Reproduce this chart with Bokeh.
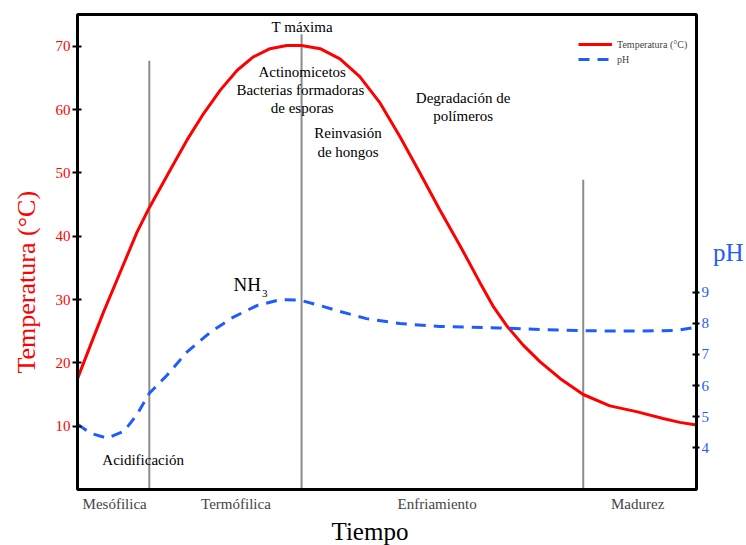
from bokeh.plotting import figure
from bokeh.models import Range1d, LinearAxis, FixedTicker, Legend, LegendItem, Title
from bokeh.core.properties import value
from bokeh.embed import file_html
from bokeh.resources import INLINE

# ---- data ----
time_temp = [0, 2.1, 4.2, 6.9, 9.6, 11.6, 15.0, 17.7, 20.4, 23.1, 25.8, 28.4, 31.1, 33.8,
             36.2, 39.2, 42.4, 45.6, 48.9, 52.1, 55.3, 58.5, 61.8, 65.0, 67.1, 69.3, 72.0,
             74.7, 78.0, 81.7, 86.0, 90.3, 94.6, 97.3, 100]
temperature = [17.5, 22.8, 28.0, 34.3, 40.6, 44.5, 50.5, 55.2, 59.4, 63.1, 66.2, 68.3, 69.6,
               70.1, 70.1, 69.6, 68.0, 65.2, 61.0, 55.7, 50.0, 44.2, 38.5, 32.7, 29.0, 25.9,
               22.8, 20.2, 17.5, 15.0, 13.2, 12.3, 11.2, 10.6, 10.2]
time_ph = [0, 2.1, 4.8, 7.5, 9.6, 11.6, 14.5, 17.7, 21.5, 25.2, 29.0, 32.7, 36.0, 39.2,
           42.4, 46.7, 52.1, 58.5, 68.2, 74.7, 81.7, 89.2, 96.7, 100]
ph = [4.76, 4.47, 4.31, 4.53, 5.06, 5.75, 6.34, 7.08, 7.72, 8.20, 8.57, 8.76, 8.74, 8.57,
      8.38, 8.15, 7.99, 7.90, 7.85, 7.80, 7.76, 7.75, 7.77, 7.87]
phase_times = [11.6, 36.2, 81.7]
phase_tops = [67.7, 71.9, 48.9]
phase_names = ["Mesófilica", "Termófilica", "Enfriamiento", "Madurez"]
phase_label_pos = [6.0, 25.6, 58.1, 90.5]
temp_ticks = [10, 20, 30, 40, 50, 60, 70]
ph_ticks = [4, 5, 6, 7, 8, 9]

notes = ["T máxima", "Actinomicetos", "Bacterias formadoras", "de esporas",
         "Reinvasión", "de hongos", "Degradación de", "polímeros", "Acidificación"]
note_x = [36.3, 36.3, 36.0, 36.3, 43.7, 43.7, 62.3, 62.3, 10.6]
note_y = [73.0, 65.9, 63.1, 60.2, 56.3, 53.3, 61.8, 59.0, 4.7]

RED = "#ff0000"
BLUE = "#1f5cff"
SERIF = "Liberation Serif"

p = figure(width=746, height=545, output_backend="svg", toolbar_location=None,
           x_range=Range1d(0, 100), y_range=Range1d(0, 75),
           min_border_left=77, min_border_right=49, min_border_top=14, min_border_bottom=54)
p.extra_y_ranges = {"ph": Range1d(2.66, 17.92)}
p.grid.visible = False
p.outline_line_color = "black"
p.outline_line_width = 3
p.background_fill_color = "white"
p.border_fill_color = "white"

# left axis
ya = p.yaxis[0]
ya.ticker = FixedTicker(ticks=temp_ticks)
ya.major_label_text_color = RED
ya.major_label_text_font = SERIF
ya.major_label_text_font_size = "15px"
ya.major_label_standoff = 2
ya.axis_line_width = 3
ya.major_tick_in = 4
ya.major_tick_out = 5
ya.major_tick_line_width = 2
ya.minor_tick_line_color = None

# right axis
ra = LinearAxis(y_range_name="ph", ticker=FixedTicker(ticks=ph_ticks))
ra.axis_label = "pH"
ra.axis_label_orientation = "horizontal"
ra.axis_label_text_color = BLUE
ra.axis_label_text_font = SERIF
ra.axis_label_text_font_size = "25px"
ra.axis_label_text_font_style = "normal"
ra.axis_label_standoff = 1
ra.major_label_text_color = BLUE
ra.major_label_text_font = SERIF
ra.major_label_text_font_size = "15px"
ra.major_label_standoff = 2
ra.axis_line_width = 3
ra.major_tick_in = 4
ra.major_tick_out = 3
ra.major_tick_line_width = 2
ra.minor_tick_line_color = None
p.add_layout(ra, "right")

# bottom axis
xa = p.xaxis[0]
xa.ticker = FixedTicker(ticks=phase_label_pos)
xa.major_label_overrides = {float(t): n for t, n in zip(phase_label_pos, phase_names)}
xa.major_label_text_font = SERIF
xa.major_label_text_font_size = "15px"
xa.major_label_standoff = 6
xa.major_tick_line_color = None
xa.major_tick_out = 0
xa.major_tick_in = 0
xa.minor_tick_line_color = None
xa.axis_line_width = 3

# axis titles (as side titles, so they can be offset like the original)
p.add_layout(Title(text="Temperatura (°C)", align="left", offset=116, standoff=20,
                   vertical_align="top",
                   text_color=RED, text_font=SERIF, text_font_size="26px",
                   text_font_style="normal"), "left")
p.add_layout(Title(text="Tiempo", align="left", offset=254, standoff=2,
                   text_color="black", text_font=SERIF, text_font_size="25px",
                   text_font_style="normal"), "below")

# phase lines
p.segment(x0=phase_times, y0=[0] * len(phase_times), x1=phase_times, y1=phase_tops,
          line_color="#8c8c8c", line_width=2)

r_temp = p.line(time_temp, temperature, line_color=RED, line_width=3)
r_ph = p.line(time_ph, ph, y_range_name="ph", line_color=BLUE, line_width=3,
              line_dash="11 8")

p.text(x=note_x, y=note_y, text=notes, text_font=value(SERIF), text_font_size="15px",
       text_align="center", text_baseline="middle", text_color="black")
p.text(x=[25.2], y=[32.4], text=["NH"], text_font=value(SERIF), text_font_size="19px",
       text_align="left", text_baseline="middle", text_color="black")
p.text(x=[29.8], y=[30.9], text=["3"], text_font=value(SERIF), text_font_size="11px",
       text_align="left", text_baseline="middle", text_color="black")

legend = Legend(items=[LegendItem(label="Temperatura (°C)", renderers=[r_temp]),
                       LegendItem(label="pH", renderers=[r_ph])],
                location=(501, 423), padding=2, spacing=1, margin=0,
                glyph_width=34, glyph_height=14, label_height=14,
                label_text_font=SERIF, label_text_font_size="10px",
                label_standoff=5, border_line_color=None,
                background_fill_alpha=0)
p.add_layout(legend)

open("out.html", "w").write(file_html(p, INLINE))
